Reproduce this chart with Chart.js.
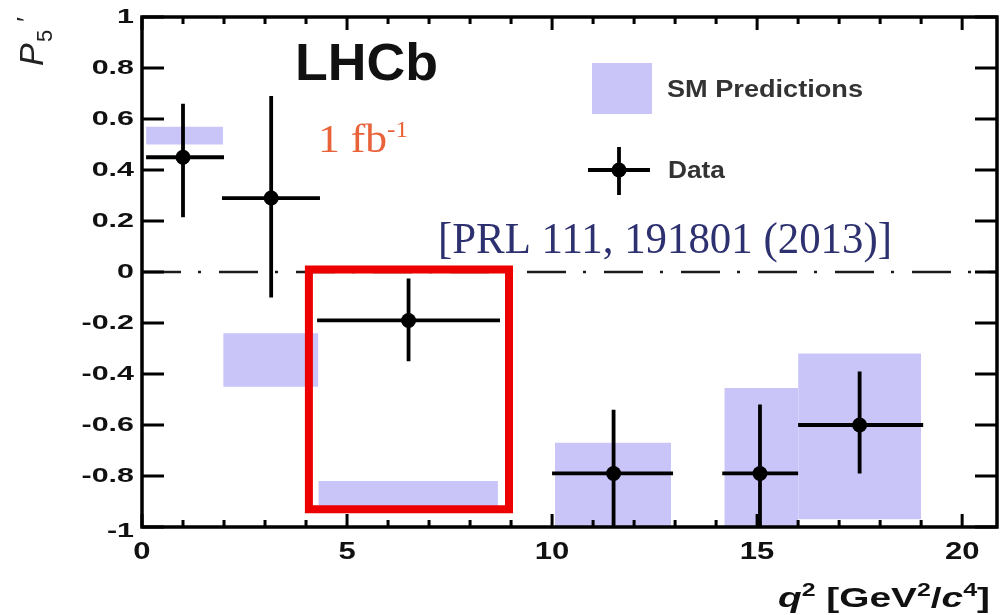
<!DOCTYPE html>
<html><head><meta charset="utf-8">
<script src="https://cdn.jsdelivr.net/npm/chart.js@4.4.1/dist/chart.umd.min.js"></script>
<style>html,body{margin:0;padding:0;background:#fff;} #wrap{width:1001px;height:615px;}</style>
</head><body><div id="wrap"><canvas id="c" width="1001" height="615"></canvas></div>
<script>
// ---- data ----
const xTicks = [0, 5, 10, 15, 20];
const xMinorTicks = [0,1,2,3,4,5,6,7,8,9,10,11,12,13,14,15,16,17,18,19,20];
const yTicks = [-1, -0.8, -0.6, -0.4, -0.2, 0, 0.2, 0.4, 0.6, 0.8, 1];
const xRange = [0, 20.85];
const yRange = [-1, 1];

const dataX     = [1.0, 3.15, 6.5, 11.5, 15.07, 17.5];
const dataY     = [0.45, 0.29, -0.19, -0.79, -0.79, -0.60];
const dataXLow  = [0.1, 1.95, 4.27, 10.0, 14.15, 16.0];
const dataXHigh = [2.0, 4.34, 8.73, 12.95, 16.0, 19.05];
const dataYLow  = [0.215, -0.10, -0.35, -1.0, -1.0, -0.79];
const dataYHigh = [0.66, 0.69, -0.025, -0.54, -0.52, -0.39];

const smXLow  = [0.1, 1.98, 4.3, 10.07, 14.2, 16.0];
const smXHigh = [1.98, 4.3, 8.68, 12.9, 16.0, 19.0];
const smYLow  = [0.50, -0.45, -0.92, -1.0, -1.0, -0.97];
const smYHigh = [0.57, -0.24, -0.82, -0.67, -0.455, -0.32];

const highlightX = [4.07, 8.95];
const highlightY = [-0.93, 0.01];
const zeroLineX = [0, 20.85];

// ---- styles ----
const LAVENDER = 'rgb(201,197,249)';
const FONT = '"Liberation Sans", Arial, sans-serif';
const SERIF = '"Liberation Serif", "DejaVu Serif", serif';

// ---- datasets ----
const datasets = [];
smXLow.forEach((x0, i) => {
  datasets.push({
    label: 'SM' + i,
    data: [{x: x0, y: smYHigh[i]}, {x: smXHigh[i], y: smYHigh[i]}],
    borderColor: 'rgba(0,0,0,0)', borderWidth: 0, pointRadius: 0,
    backgroundColor: LAVENDER, fill: {value: smYLow[i]}, order: 10
  });
});
datasets.push({
  label: 'zero',
  data: zeroLineX.map(x => ({x, y: 0})),
  borderColor: '#1a1a1a', borderWidth: 2.5, borderDash: [39, 17, 3, 18],
  pointRadius: 0, fill: false, order: 8
});
const errPts = [];
dataX.forEach((x, i) => {
  errPts.push({x: dataXLow[i], y: dataY[i]}, {x: dataXHigh[i], y: dataY[i]}, {x: NaN, y: NaN});
  errPts.push({x: x, y: dataYLow[i]}, {x: x, y: dataYHigh[i]}, {x: NaN, y: NaN});
});
datasets.push({
  label: 'err', data: errPts, borderColor: '#000', borderWidth: 3.8,
  pointRadius: 0, fill: false, spanGaps: false, order: 6, borderCapStyle: 'butt'
});
datasets.push({
  label: 'Data', data: dataX.map((x, i) => ({x, y: dataY[i]})),
  showLine: false, pointRadius: 7.5, pointBackgroundColor: '#000',
  pointBorderWidth: 0, borderColor: '#000', order: 4
});
datasets.push({
  label: 'highlight',
  data: [
    {x: highlightX[0], y: highlightY[1]}, {x: highlightX[1], y: highlightY[1]},
    {x: highlightX[1], y: highlightY[0]}, {x: highlightX[0], y: highlightY[0]},
    {x: highlightX[0], y: highlightY[1]}
  ],
  borderColor: 'rgb(236,0,0)', borderWidth: 8, borderJoinStyle: 'miter',
  borderCapStyle: 'square', pointRadius: 0, fill: false, order: 1
});

function fmtY(v) { const r = Math.round(v * 10) / 10; return r.toString(); }

function drawRuns(ctx, runs, x, baseline, targetW) {
  let total = 0;
  runs.forEach(r => { ctx.font = r.font; r.w = ctx.measureText(r.text).width; total += r.w; });
  const s = targetW ? targetW / total : 1;
  ctx.save();
  ctx.translate(x, baseline);
  ctx.scale(s, 1);
  ctx.textAlign = 'left'; ctx.textBaseline = 'alphabetic';
  let cx = 0;
  runs.forEach(r => {
    ctx.font = r.font; ctx.fillStyle = r.color;
    ctx.fillText(r.text, cx, r.dy || 0);
    cx += r.w;
  });
  ctx.restore();
}

function drawScaledLabel(ctx, text, x, y, align, font, sx) {
  ctx.save();
  ctx.translate(x, y);
  ctx.scale(sx, 1);
  ctx.font = font; ctx.fillStyle = '#111';
  ctx.textAlign = align; ctx.textBaseline = 'middle';
  ctx.fillText(text, 0, 0);
  ctx.restore();
}

const decor = {
  id: 'decor',
  afterDatasetsDraw(chart) {
    const ctx = chart.ctx, a = chart.chartArea;
    const xs = chart.scales.x, ys = chart.scales.y;
    ctx.save();
    ctx.strokeStyle = '#000';
    ctx.lineCap = 'butt';
    // inward ticks
    ctx.lineWidth = 3;
    xMinorTicks.forEach(v => {
      const px = xs.getPixelForValue(v);
      const len = (v % 5 === 0) ? 13 : 7;
      ctx.beginPath();
      ctx.moveTo(px, a.bottom); ctx.lineTo(px, a.bottom - len);
      ctx.moveTo(px, a.top); ctx.lineTo(px, a.top + len);
      ctx.stroke();
    });
    yTicks.forEach(v => {
      const py = ys.getPixelForValue(v);
      ctx.beginPath();
      ctx.moveTo(a.left, py); ctx.lineTo(a.left + 22, py);
      ctx.moveTo(a.right, py); ctx.lineTo(a.right - 22, py);
      ctx.stroke();
    });
    // frame
    ctx.lineWidth = 3.5;
    ctx.strokeRect(a.left, a.top, a.right - a.left, a.bottom - a.top);
    ctx.restore();
  },
  afterDraw(chart) {
    const ctx = chart.ctx, a = chart.chartArea;
    const xs = chart.scales.x, ys = chart.scales.y;
    ctx.save();
    // tick labels (from the scales' ticks)
    ys.ticks.forEach(t => {
      const py = ys.getPixelForValue(t.value);
      drawScaledLabel(ctx, fmtY(t.value), a.left - 8, py + (t.value === -1 ? 4 : 0), 'right', 'bold 21px ' + FONT, 1.45);
    });
    xs.ticks.forEach(t => {
      const px = xs.getPixelForValue(t.value);
      drawScaledLabel(ctx, String(t.value), px, 553, 'center', 'bold 23px ' + FONT, 1.35);
    });
    // LHCb
    drawRuns(ctx, [{text: 'LHCb', font: 'bold 52px ' + FONT, color: '#111'}], 295, 80, 143);
    // 1 fb^-1
    drawRuns(ctx, [
      {text: '1 fb', font: '40px ' + SERIF, color: '#e8623a'},
      {text: '-1', font: '23px ' + SERIF, color: '#e8623a', dy: -15}
    ], 318, 152, 90);
    // PRL
    drawRuns(ctx, [{text: '[PRL 111, 191801 (2013)]', font: '44px ' + SERIF, color: '#2e3170'}], 438, 253, 454);
    // legend
    ctx.fillStyle = LAVENDER;
    ctx.fillRect(592, 63, 60, 51);
    drawRuns(ctx, [{text: 'SM Predictions', font: 'bold 23px ' + FONT, color: '#333'}], 667, 97, 196);
    ctx.strokeStyle = '#000'; ctx.lineWidth = 3.8;
    ctx.beginPath();
    ctx.moveTo(588, 170); ctx.lineTo(650, 170);
    ctx.moveTo(619, 147); ctx.lineTo(619, 195);
    ctx.stroke();
    ctx.fillStyle = '#000';
    ctx.beginPath(); ctx.arc(619, 170, 7.5, 0, Math.PI * 2); ctx.fill();
    drawRuns(ctx, [{text: 'Data', font: 'bold 23px ' + FONT, color: '#333'}], 668, 178, 57);
    // x title
    drawRuns(ctx, [
      {text: 'q', font: 'italic bold 28px ' + FONT, color: '#111'},
      {text: '2', font: 'bold 18px ' + FONT, color: '#111', dy: -11},
      {text: ' [GeV', font: 'bold 28px ' + FONT, color: '#111'},
      {text: '2', font: 'bold 18px ' + FONT, color: '#111', dy: -11},
      {text: '/', font: 'bold 28px ' + FONT, color: '#111'},
      {text: 'c', font: 'italic bold 28px ' + FONT, color: '#111'},
      {text: '4', font: 'bold 18px ' + FONT, color: '#111', dy: -11},
      {text: ']', font: 'bold 28px ' + FONT, color: '#111'}
    ], 778, 607, 212);
    // y title (rotated)
    ctx.save();
    ctx.translate(43, 66);
    ctx.rotate(-Math.PI / 2);
    ctx.fillStyle = '#222';
    ctx.textBaseline = 'alphabetic';
    ctx.font = 'italic 34px ' + FONT;
    ctx.fillText('P', 0, 0);
    ctx.font = '22px ' + FONT;
    ctx.fillText('5', 24, 9);
    ctx.font = 'italic 26px ' + FONT;
    ctx.fillText('\u2032', 43, -8);
    ctx.restore();
    ctx.restore();
  }
};

new Chart(document.getElementById('c'), {
  type: 'line',
  data: {datasets},
  options: {
    responsive: false, animation: false, events: [],
    devicePixelRatio: 1,
    layout: {autoPadding: false, padding: {top: 17, right: 4, bottom: 0, left: 0}},
    plugins: {legend: {display: false}, tooltip: {enabled: false}},
    scales: {
      x: {
        type: 'linear', min: xRange[0], max: xRange[1],
        afterBuildTicks: s => { s.ticks = xTicks.map(v => ({value: v})); },
        afterFit: s => { s.height = 88; },
        grid: {display: false}, border: {display: false},
        ticks: {display: false}
      },
      y: {
        type: 'linear', min: yRange[0], max: yRange[1],
        afterBuildTicks: s => { s.ticks = yTicks.map(v => ({value: v})); },
        afterFit: s => { s.width = 142; },
        grid: {display: false}, border: {display: false},
        ticks: {display: false, callback: v => fmtY(v)}
      }
    }
  },
  plugins: [decor]
});
</script>
</body></html>
